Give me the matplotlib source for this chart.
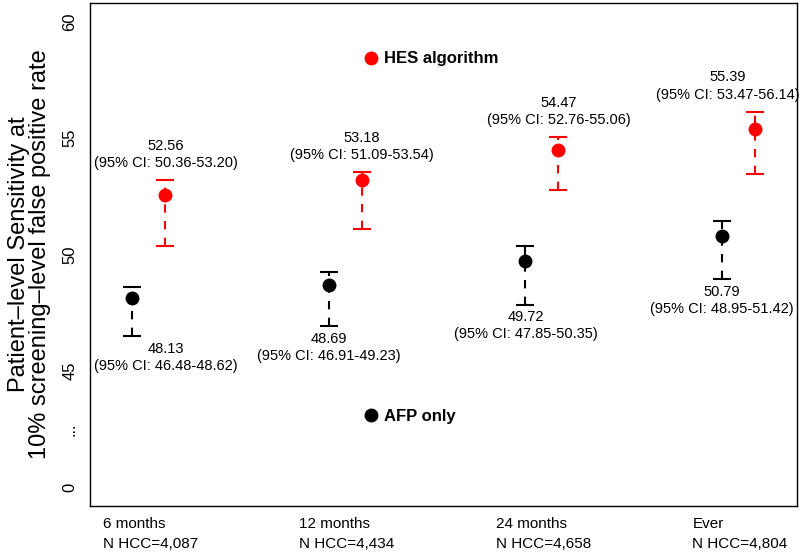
import numpy as np
import matplotlib
matplotlib.use('Agg')
import matplotlib.pyplot as plt
from matplotlib.lines import Line2D

plt.rcParams['font.family'] = ['Liberation Sans', 'DejaVu Sans']

# sensitivity (%) at 10% screening-level false positive rate
periods = ['6 months', '12 months', '24 months', 'Ever']
n_hcc = ['4,087', '4,434', '4,658', '4,804']
hes_est = [52.56, 53.18, 54.47, 55.39]
hes_lo = [50.36, 51.09, 52.76, 53.47]
hes_hi = [53.20, 53.54, 55.06, 56.14]
afp_est = [48.13, 48.69, 49.72, 50.79]
afp_lo = [46.48, 46.91, 47.85, 48.95]
afp_hi = [48.62, 49.23, 50.35, 51.42]

# broken y axis: 0 is drawn where 40 would be
ytick_vals = [40, 42.5, 45, 50, 55, 60]
ytick_labels = ['0', '...', '45', '50', '55', '60']

x_afp = np.arange(1, len(periods) + 1)
x_hes = x_afp + 0.168
afp_label_shift = [0.168, 0, 0, 0]
hes_label_shift = [0, 0, 0, -0.14]

fig = plt.figure(figsize=(8, 5.55), dpi=100)
ax = fig.add_axes([0.1125, 0.0883, 0.88375, 0.9063])


def draw(xs, est, lo, hi, color):
    est = np.array(est)
    err = [est - np.array(lo), np.array(hi) - est]
    eb = ax.errorbar(xs, est, yerr=err, fmt='o', color=color, ms=9,
                     elinewidth=1.5, capsize=6.5, capthick=1.5)
    eb[2][0].set_linestyle((0, (4, 4)))


draw(x_hes, hes_est, hes_lo, hes_hi, 'red')
draw(x_afp, afp_est, afp_lo, afp_hi, 'black')

for i in range(len(periods)):
    ax.annotate(f'{hes_est[i]:.2f}\n(95% CI: {hes_lo[i]:.2f}-{hes_hi[i]:.2f})',
                xy=(x_hes[i] + hes_label_shift[i], hes_hi[i]), xytext=(0, 7),
                textcoords='offset points', ha='center', va='bottom',
                fontsize=10.5, linespacing=1.3)
    ax.annotate(f'{afp_est[i]:.2f}\n(95% CI: {afp_lo[i]:.2f}-{afp_hi[i]:.2f})',
                xy=(x_afp[i] + afp_label_shift[i], afp_lo[i]), xytext=(0, -4),
                textcoords='offset points', ha='center', va='top',
                fontsize=10.5, linespacing=1.3)
    ax.text(x_afp[i] - 0.15, -0.022, f'{periods[i]}\nN HCC={n_hcc[i]}',
            transform=ax.get_xaxis_transform(), ha='left', va='top',
            fontsize=11, linespacing=1.5)

ax.set_xlim(0.784, 4.382)
ax.set_ylim(39.2, 60.8)
ax.set_xticks([])
ax.set_yticks(ytick_vals)
ax.set_yticklabels(ytick_labels, rotation=90, va='center', fontsize=12)
ax.tick_params(axis='y', length=0, pad=9)
for s in ax.spines.values():
    s.set_linewidth(1.0)

ax.set_ylabel('Patient\u2013level Sensitivity at\n10% screening\u2013level false positive rate',
              fontsize=17, linespacing=0.95, labelpad=8)

h_hes = Line2D([], [], marker='o', color='red', ls='none', ms=9)
h_afp = Line2D([], [], marker='o', color='black', ls='none', ms=9)
leg_kw = dict(loc='center left', bbox_transform=fig.transFigure, frameon=False,
              borderpad=0, borderaxespad=0, handlelength=1, handletextpad=0.3,
              prop={'weight': 'bold', 'size': 12})
leg1 = ax.legend([h_hes], ['HES algorithm'], bbox_to_anchor=(362.7 / 800, 1 - 59 / 555), **leg_kw)
ax.add_artist(leg1)
ax.legend([h_afp], ['AFP only'], bbox_to_anchor=(362.7 / 800, 1 - 416 / 555), **leg_kw)

fig.savefig('out.png', dpi=100)
